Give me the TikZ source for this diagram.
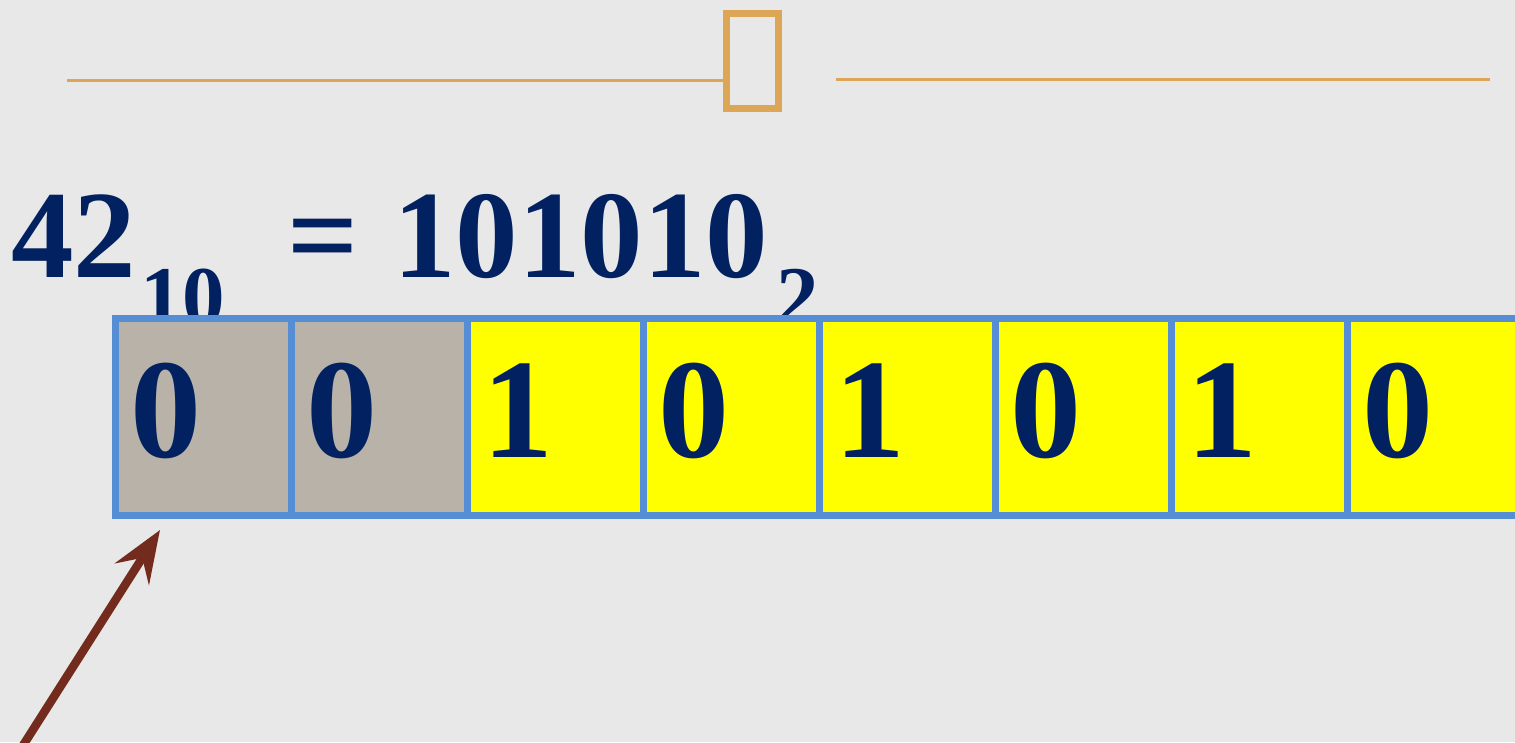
\documentclass[tikz,border=0pt]{standalone}
\usepackage{fontspec}
\setmainfont{Liberation Serif}
\usetikzlibrary{arrows.meta,positioning}

\definecolor{slide}{HTML}{E8E8E8}
\definecolor{navy}{HTML}{022160}
\definecolor{ornament}{HTML}{DDA556}
\definecolor{cellblue}{HTML}{558ED5}
\definecolor{padgray}{HTML}{B8B2A8}
\definecolor{bityellow}{HTML}{FFFF00}
\definecolor{pointer}{HTML}{722B1C}

\begin{document}
\begin{tikzpicture}[x=1pt, y=-1pt,
    big/.style={inner sep=0, anchor=base west, text=navy, font=\bfseries\fontsize{125}{125}\selectfont},
    sub/.style={big, font=\bfseries\fontsize{85}{85}\selectfont},
    cell/.style={rectangle, draw=cellblue, line width=7pt, inner sep=0, outer sep=0, minimum width=176pt, minimum height=197pt},
    padcell/.style={cell, fill=padgray},
    datacell/.style={cell, fill=bityellow},
    bit/.style={inner sep=0, anchor=base west, text=navy, font=\bfseries\fontsize{142}{142}\selectfont},
    rule/.style={draw=ornament, line width=3pt},
    arrow/.style={draw=pointer, line width=8.5pt, -{Stealth[length=52pt, width=40pt, inset=19pt]}}
]

% Slide background
\fill[slide] (0,0) rectangle (1515,742);
\useasboundingbox (0,0) rectangle (1515,742);

% Header ornament
\node[draw=ornament, line width=7.5pt, minimum width=52pt, minimum height=95pt, inner sep=0] (glyph) at (752.5,61) {};
\coordinate (ruleleft) at (67,80);
\draw[rule] (ruleleft) -- (ruleleft -| glyph.west);
\draw[rule] (836,79) -- (1490,79);

% Conversion
\node[big] (dec) at (11,277) {42};
\node[sub] (decbase) at (140,325) {10};
\node[big] (eq) at (287,277) {=};
\node[big] (bin) at (393,277) {101010};
\node[sub] (binbase) at (776,325) {2};

% Byte cells
\foreach \b/\kind [count=\i from 0] in {0/padcell,0/padcell,1/datacell,0/datacell,1/datacell,0/datacell,1/datacell,0/datacell} {
    \node[\kind] (cell\i) at (203+176*\i, 416.5) {};
    \node[bit] (bit\i) at ([xshift=15pt, yshift=58pt]cell\i.south west) {\b};
}

% Pointer
\coordinate (tail) at (22,747);
\coordinate (tip) at (160,530);
\draw[arrow] (tail) -- (tip);

\end{tikzpicture}
\end{document}
